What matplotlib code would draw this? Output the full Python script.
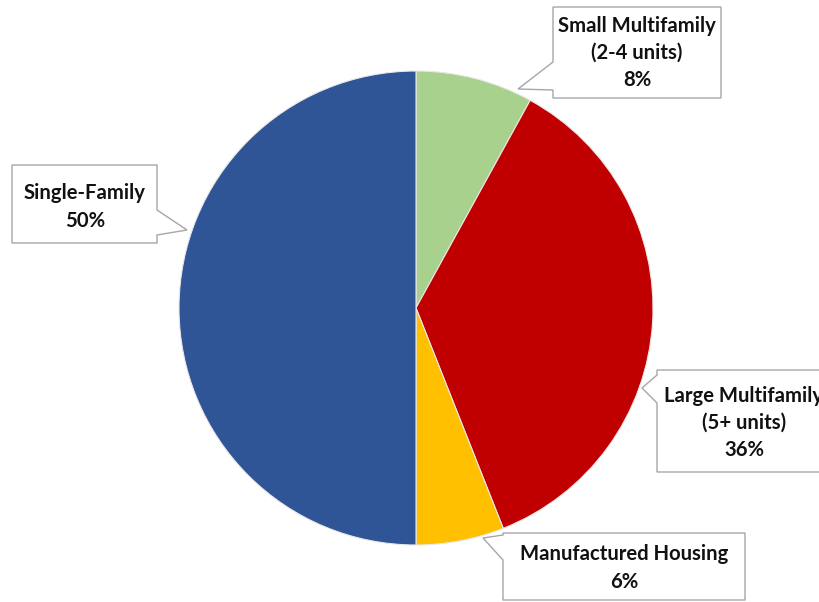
import numpy as np
import matplotlib.pyplot as plt
from matplotlib.patches import Polygon

plt.rcParams['font.family'] = ['Lato', 'DejaVu Sans']

# housing stock shares, drawn clockwise from 12 o'clock
labels = ['Small Multifamily\n(2-4 units)', 'Large Multifamily\n(5+ units)',
          'Manufactured Housing', 'Single-Family']
shares = [8, 36, 6, 50]
colors = ['#A9D18E', '#C00000', '#FFC000', '#2F5597']

W, H = 819, 602
fig = plt.figure(figsize=(W / 100, H / 100), dpi=100)
ax = fig.add_axes([0, 0, 1, 1])

cx, cy, r = 416, H - 308, 237
ax.pie(shares, colors=colors, startangle=90, counterclock=False,
       center=(cx, cy), radius=r, frame=True,
       wedgeprops=dict(edgecolor='#E8E8E8', linewidth=0.8))
ax.set_xlim(0, W)
ax.set_ylim(0, H)
ax.set_aspect('equal')
ax.axis('off')


def callout(x0, y0, x1, y1, side, b1, b2, tip):
    # box in screen pixels (y down), pointer notch on left or right edge
    if side == 'left':
        pts = [(x0, y0), (x1, y0), (x1, y1), (x0, y1), (x0, b2), tip, (x0, b1)]
    else:
        pts = [(x0, y0), (x1, y0), (x1, b1), tip, (x1, b2), (x1, y1), (x0, y1)]
    pts = [(px, H - py) for px, py in pts]
    ax.add_patch(Polygon(pts, closed=True, facecolor='white',
                         edgecolor='#A6A6A6', linewidth=1.0, zorder=5))


def label(x, y, txt):
    ax.text(x, H - y, txt, ha='center', va='center', fontsize=14.6,
            fontweight='bold', color='#111111', linespacing=1.45, zorder=6)


# Small Multifamily
callout(553, 7, 721, 98, 'left', 62, 90, (518, 89))
label(637, 53, labels[0] + '\n%d%%' % shares[0])

# Large Multifamily
callout(657, 370, 833, 472, 'left', 375, 403, (642, 388))
label(744, 423, labels[1] + '\n%d%%' % shares[1])

# Manufactured Housing
callout(503, 533, 745, 600, 'left', 535, 560, (483, 538))
label(624, 568, labels[2] + '\n%d%%' % shares[2])

# Single-Family
callout(12, 165, 157, 243, 'right', 210, 235, (187, 230))
label(85, 207, labels[3] + '\n%d%%' % shares[3])

fig.savefig('out.png', dpi=100)
